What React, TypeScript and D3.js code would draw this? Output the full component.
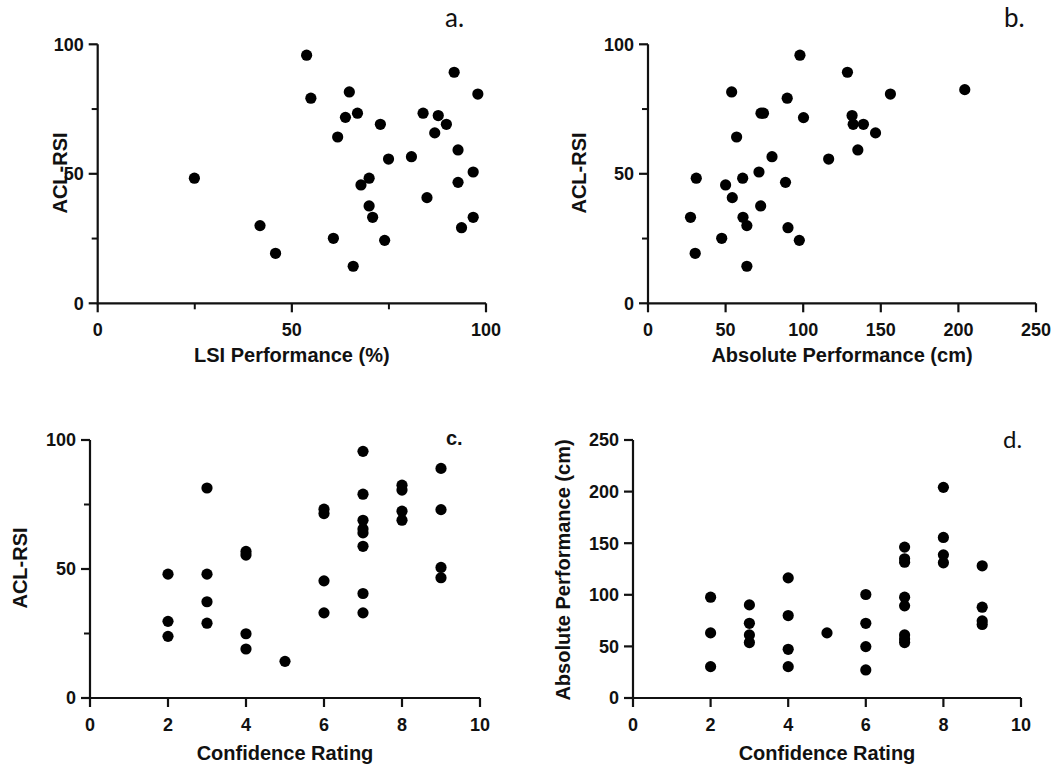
import * as React from "react";
import * as d3 from "d3";

// a. LSI performance (%) vs ACL-RSI
const lsiPerformance = [53.8, 54.9, 24.9, 41.8, 45.8, 60.7, 61.8, 63.8, 64.8, 66.9, 65.8, 67.8, 69.9, 69.9, 70.8, 72.8, 73.9, 74.9, 80.8, 83.8, 84.8, 86.8, 87.7, 89.8, 91.8, 92.8, 92.8, 93.7, 96.7, 96.7, 97.9];
const aclRsiA = [95.8, 79.2, 48.3, 30.0, 19.3, 25.1, 64.2, 71.8, 81.6, 73.4, 14.3, 45.7, 48.3, 37.6, 33.2, 69.1, 24.3, 55.7, 56.6, 73.4, 40.8, 65.8, 72.5, 69.1, 89.2, 59.2, 46.7, 29.2, 50.7, 33.2, 80.8];

// b. absolute performance (cm) vs ACL-RSI
const absPerformance = [97.9, 128.5, 204.1, 156.2, 53.9, 89.7, 72.8, 74.4, 100.2, 131.5, 132.2, 138.8, 146.6, 57.1, 135.2, 79.9, 116.4, 31.1, 61.0, 71.5, 50.0, 88.6, 54.3, 72.6, 27.4, 61.2, 63.7, 90.2, 47.5, 97.5, 30.4, 63.7];
const aclRsiB = [95.8, 89.2, 82.5, 80.8, 81.6, 79.2, 73.4, 73.4, 71.7, 72.5, 69.1, 69.1, 65.8, 64.2, 59.2, 56.6, 55.7, 48.3, 48.3, 50.7, 45.7, 46.7, 40.8, 37.6, 33.2, 33.2, 30.0, 29.2, 25.1, 24.3, 19.3, 14.3];

// c. confidence rating vs ACL-RSI
const confidenceC = [2, 2, 2, 3, 3, 3, 3, 4, 4, 4, 4, 5, 6, 6, 6, 6, 7, 7, 7, 7, 7, 7, 7, 7, 8, 8, 8, 8, 9, 9, 9, 9];
const aclRsiC = [48.0, 29.7, 23.9, 81.4, 48.0, 37.3, 29.0, 56.8, 55.4, 24.9, 19.0, 14.2, 73.2, 71.5, 45.4, 33.0, 95.6, 79.0, 68.9, 65.5, 64.0, 58.8, 40.5, 33.0, 82.5, 80.6, 72.4, 68.9, 89.0, 73.0, 50.6, 46.6];

// d. confidence rating vs absolute performance (cm)
const confidenceD = [2, 2, 2, 3, 3, 3, 3, 4, 4, 4, 4, 5, 6, 6, 6, 6, 7, 7, 7, 7, 7, 7, 7, 7, 8, 8, 8, 8, 9, 9, 9, 9];
const absPerfD = [97.7, 63.1, 30.4, 90.2, 72.4, 61.1, 53.7, 116.4, 79.9, 47.2, 30.4, 63.1, 100.3, 72.4, 49.8, 27.2, 146.2, 134.9, 131.6, 97.7, 89.3, 61.1, 57.2, 53.7, 204.1, 155.6, 138.7, 131.0, 128.1, 88.0, 74.7, 71.2];

const pctTicks = [0, 50, 100];
const pctMinor = [25, 75];
const cmTicks = [0, 50, 100, 150, 200, 250];
const ratingTicks = [0, 2, 4, 6, 8, 10];

const FONT = "'Liberation Sans', Arial, sans-serif";

interface PanelProps {
  xs: number[];
  ys: number[];
  xDomain: [number, number];
  yDomain: [number, number];
  xTicks: number[];
  yTicks: number[];
  xMinor?: number[];
  yMinor?: number[];
  left: number;
  right: number;
  top: number;
  bottom: number;
  xTitle: string;
  yTitle: string;
  yTitleX: number;
  yTitleY: number;
  xTitleY: number;
}

function Panel(p: PanelProps) {
  const x = d3.scaleLinear().domain(p.xDomain).range([p.left, p.right]);
  const y = d3.scaleLinear().domain(p.yDomain).range([p.bottom, p.top]);
  const x0 = x(p.xDomain[0]);
  const y0 = y(p.yDomain[0]);
  return (
    <g>
      {/* axes */}
      <path
        d={`M${x0},${y(p.yDomain[1])}V${y0}H${x(p.xDomain[1])}`}
        fill="none"
        stroke="#111"
        strokeWidth={2.2}
      />
      {p.xTicks.map((t) => (
        <g key={"xt" + t}>
          <line x1={x(t)} x2={x(t)} y1={y0} y2={y0 + 9} stroke="#111" strokeWidth={2.2} />
          <text x={x(t)} y={y0 + 33} textAnchor="middle" fontSize={18} fontWeight="bold" fontFamily={FONT} fill="#111">
            {t}
          </text>
        </g>
      ))}
      {(p.xMinor || []).map((t) => (
        <line key={"xm" + t} x1={x(t)} x2={x(t)} y1={y0} y2={y0 + 6} stroke="#111" strokeWidth={2} />
      ))}
      {p.yTicks.map((t) => (
        <g key={"yt" + t}>
          <line x1={x0 - 9} x2={x0} y1={y(t)} y2={y(t)} stroke="#111" strokeWidth={2.2} />
          <text x={x0 - 14} y={y(t)} dy="0.36em" textAnchor="end" fontSize={18} fontWeight="bold" fontFamily={FONT} fill="#111">
            {t}
          </text>
        </g>
      ))}
      {(p.yMinor || []).map((t) => (
        <line key={"ym" + t} x1={x0 - 6} x2={x0} y1={y(t)} y2={y(t)} stroke="#111" strokeWidth={2} />
      ))}
      {/* titles */}
      <text
        x={(p.left + p.right) / 2}
        y={p.xTitleY}
        textAnchor="middle"
        fontSize={20}
        fontWeight="bold"
        fontFamily={FONT}
        fill="#111"
      >
        {p.xTitle}
      </text>
      <text
        transform={`translate(${p.yTitleX},${p.yTitleY}) rotate(-90)`}
        textAnchor="middle"
        fontSize={20}
        fontWeight="bold"
        fontFamily={FONT}
        fill="#111"
      >
        {p.yTitle}
      </text>
      {/* points */}
      {p.xs.map((v, i) => (
        <circle key={i} cx={x(v)} cy={y(p.ys[i])} r={5.6} fill="#000" />
      ))}
    </g>
  );
}

export default function App() {
  return (
    <svg
      width={1055}
      height={769}
      style={{ position: "absolute", left: 0, top: 0, background: "#fff" }}
    >
      <Panel
        xs={lsiPerformance}
        ys={aclRsiA}
        xDomain={[0, 100]}
        yDomain={[0, 100]}
        xTicks={pctTicks}
        xMinor={pctMinor}
        yTicks={pctTicks}
        yMinor={pctMinor}
        left={97.7}
        right={486}
        top={44.3}
        bottom={303.3}
        xTitle="LSI Performance (%)"
        yTitle="ACL-RSI"
        yTitleX={67}
        yTitleY={173}
        xTitleY={362}
      />
      <Panel
        xs={absPerformance}
        ys={aclRsiB}
        xDomain={[0, 250]}
        yDomain={[0, 100]}
        xTicks={cmTicks}
        yTicks={pctTicks}
        yMinor={pctMinor}
        left={648}
        right={1036}
        top={44.3}
        bottom={303.3}
        xTitle="Absolute Performance (cm)"
        yTitle="ACL-RSI"
        yTitleX={586}
        yTitleY={173}
        xTitleY={362}
      />
      <Panel
        xs={confidenceC}
        ys={aclRsiC}
        xDomain={[0, 10]}
        yDomain={[0, 100]}
        xTicks={ratingTicks}
        yTicks={pctTicks}
        yMinor={pctMinor}
        left={90}
        right={480}
        top={440}
        bottom={698}
        xTitle="Confidence Rating"
        yTitle="ACL-RSI"
        yTitleX={27}
        yTitleY={568}
        xTitleY={760}
      />
      <Panel
        xs={confidenceD}
        ys={absPerfD}
        xDomain={[0, 10]}
        yDomain={[0, 250]}
        xTicks={ratingTicks}
        yTicks={cmTicks}
        left={633}
        right={1021}
        top={440}
        bottom={698}
        xTitle="Confidence Rating"
        yTitle="Absolute Performance (cm)"
        yTitleX={570}
        yTitleY={570}
        xTitleY={760}
      />
      {/* panel letters */}
      <text x={445} y={27} fontSize={26} fontFamily="Lato, 'Open Sans', sans-serif" fill="#111">a.</text>
      <text x={1004} y={27} fontSize={26} fontFamily="Lato, 'Open Sans', sans-serif" fill="#111">b.</text>
      <text x={446} y={445} fontSize={20} fontWeight="bold" fontFamily={FONT} fill="#111">c.</text>
      <text x={1003} y={448} fontSize={24} fontFamily="Lato, 'Open Sans', sans-serif" fill="#111">d.</text>
    </svg>
  );
}
